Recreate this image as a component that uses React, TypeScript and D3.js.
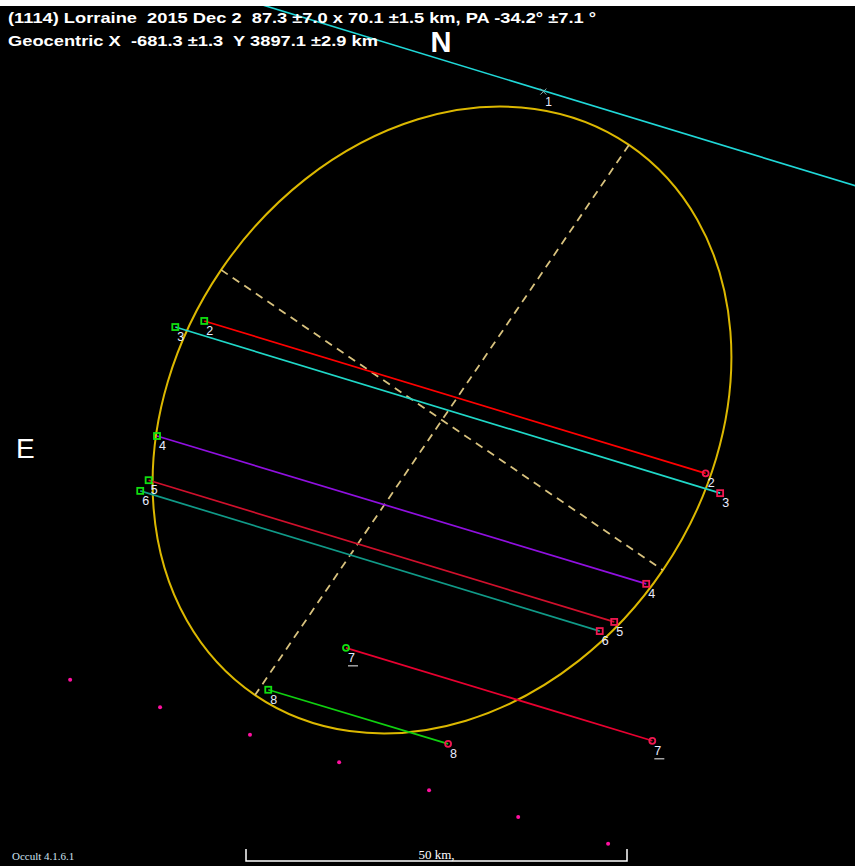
import React, { useEffect, useRef } from 'react';
import * as d3 from 'd3';

// occultation solution
const asteroidTitle = '(1114) Lorraine  2015 Dec 2  87.3 ±7.0 x 70.1 ±1.5 km, PA -34.2° ±7.1 °';
const geocentricText = 'Geocentric X  -681.3 ±1.3  Y 3897.1 ±2.9 km';
const majorAxisKm = 87.3;
const minorAxisKm = 70.1;
const paDeg = -34.2;

// chords (km, x to the west/right, y to the north/up)
const chordIds = ['2', '3', '4', '5', '6', '7', '8'];
const chordStartX = [-31.2, -35.0, -37.4, -38.5, -39.6, -12.6, -22.8];
const chordStartY = [13.0, 12.2, -2.1, -7.9, -9.3, -29.9, -35.4];
const chordEndX = [34.6, 36.5, 26.8, 22.6, 20.7, 27.6, 0.8];
const chordEndY = [-7.0, -9.6, -21.5, -26.5, -27.7, -42.1, -42.5];
const chordStartMark = ['square', 'square', 'square', 'square', 'square', 'circle', 'square'];
const chordEndMark = ['circle', 'square', 'square', 'square', 'square', 'circle', 'circle'];
const chordColors = ['#ff0000', '#20d8c8', '#9010e0', '#d0102c', '#109a88', '#e80030', '#10d010'];

// miss chord (observer 1)
const missLineX = [-24.0, 56.0];
const missLineY = [54.6, 30.2];
const missMarkX = 13.3;
const missMarkY = 43.1;

// predicted track dots
const dotX = [-48.8, -37.0, -25.2, -13.5, -1.7, 10.0, 21.8];
const dotY = [-34.1, -37.7, -41.3, -44.9, -48.6, -52.1, -55.6];

const scaleBarKm = 50;

function App() {
  const ref = useRef<SVGSVGElement>(null);

  useEffect(() => {
    const svg = d3.select(ref.current);
    svg.selectAll('*').remove();

    const width = 855, height = 866;
    const cx = 442, cy = 420, pxPerKm = 7.62;

    const x = d3.scaleLinear().domain([0, 1]).range([cx, cx + pxPerKm]);
    const y = d3.scaleLinear().domain([0, 1]).range([cy, cy - pxPerKm]);

    svg.append('rect').attr('x', 0).attr('y', 0).attr('width', width).attr('height', height).attr('fill', '#fff');
    svg.append('rect').attr('x', 0).attr('y', 6).attr('width', width).attr('height', height - 6).attr('fill', '#000');

    svg.append('clipPath').attr('id', 'plotclip')
      .append('rect').attr('x', 0).attr('y', 6).attr('width', width).attr('height', height - 6);

    const g = svg.append('g').attr('clip-path', 'url(#plotclip)');

    // miss line
    g.append('line')
      .attr('x1', x(missLineX[0])).attr('y1', y(missLineY[0]))
      .attr('x2', x(missLineX[1])).attr('y2', y(missLineY[1]))
      .attr('stroke', '#20d8d8').attr('stroke-width', 1.6);
    const mx = x(missMarkX), my = y(missMarkY);
    g.append('path')
      .attr('d', `M${mx - 3},${my - 3}L${mx + 3},${my + 3}M${mx - 3},${my + 3}L${mx + 3},${my - 3}`)
      .attr('stroke', '#8aa').attr('stroke-width', 1);
    g.append('text').attr('x', mx + 2).attr('y', my + 14).text('1')
      .attr('fill', '#e8ecff').attr('font-family', 'Liberation Sans, Arial').attr('font-size', 12);

    // ellipse + axes
    const rx = (minorAxisKm / 2) * pxPerKm;
    const ry = (majorAxisKm / 2) * pxPerKm;
    const rot = -paDeg;
    const eg = g.append('g').attr('transform', `translate(${x(0)},${y(0)}) rotate(${rot})`);
    eg.append('ellipse').attr('rx', rx).attr('ry', ry)
      .attr('fill', 'none').attr('stroke', '#dcb800').attr('stroke-width', 2);
    eg.append('line').attr('x1', 0).attr('y1', -ry).attr('x2', 0).attr('y2', ry)
      .attr('stroke', '#d8c27e').attr('stroke-width', 1.8).attr('stroke-dasharray', '8,6');
    eg.append('line').attr('x1', -rx).attr('y1', 0).attr('x2', rx).attr('y2', 0)
      .attr('stroke', '#d8c27e').attr('stroke-width', 1.8).attr('stroke-dasharray', '8,6');

    // chords
    chordIds.forEach((id, i) => {
      const x1 = x(chordStartX[i]), y1 = y(chordStartY[i]);
      const x2 = x(chordEndX[i]), y2 = y(chordEndY[i]);
      g.append('line').attr('x1', x1).attr('y1', y1).attr('x2', x2).attr('y2', y2)
        .attr('stroke', chordColors[i]).attr('stroke-width', 1.7);

      const mark = (px: number, py: number, type: string, color: string) => {
        if (type === 'circle') {
          g.append('circle').attr('cx', px).attr('cy', py).attr('r', 3)
            .attr('fill', 'none').attr('stroke', color).attr('stroke-width', 1.8);
        } else {
          g.append('rect').attr('x', px - 3).attr('y', py - 3).attr('width', 6).attr('height', 6)
            .attr('fill', 'none').attr('stroke', color).attr('stroke-width', 1.8);
        }
      };
      mark(x1, y1, chordStartMark[i], '#10e010');
      mark(x2, y2, chordEndMark[i], '#f01850');

      [[x1, y1], [x2, y2]].forEach(([px, py]) => {
        g.append('text').attr('x', px + 2).attr('y', py + 14).text(id)
          .attr('fill', '#e8ecff').attr('font-family', 'Liberation Sans, Arial').attr('font-size', 12.5);
        if (id === '7') {
          g.append('line').attr('x1', px + 2).attr('x2', px + 12)
            .attr('y1', py + 18).attr('y2', py + 18)
            .attr('stroke', '#ccc').attr('stroke-width', 1.2);
        }
      });
    });

    // track dots
    g.selectAll('circle.dot').data(dotX).join('circle').attr('class', 'dot')
      .attr('cx', (d) => x(d)).attr('cy', (d, i) => y(dotY[i]))
      .attr('r', 2).attr('fill', '#ff10a0');

    // text
    svg.append('text').attr('x', 8).attr('y', 23).text(asteroidTitle)
      .style('white-space', 'pre')
      .attr('fill', '#fff').attr('font-family', 'Liberation Sans, Arial').attr('font-weight', 'bold')
      .attr('font-size', 15).attr('textLength', 588).attr('lengthAdjust', 'spacingAndGlyphs');
    svg.append('text').attr('x', 8).attr('y', 46).text(geocentricText)
      .style('white-space', 'pre')
      .attr('fill', '#fff').attr('font-family', 'Liberation Sans, Arial').attr('font-weight', 'bold')
      .attr('font-size', 15).attr('textLength', 370).attr('lengthAdjust', 'spacingAndGlyphs');

    svg.append('text').attr('x', 441).attr('y', 52).text('N').attr('text-anchor', 'middle')
      .attr('fill', '#fff').attr('font-family', 'Liberation Sans, Arial').attr('font-weight', 'bold').attr('font-size', 29);
    svg.append('text').attr('x', 16).attr('y', 458).text('E')
      .attr('fill', '#fff').attr('font-family', 'Liberation Sans, Arial').attr('font-size', 28);

    svg.append('text').attr('x', 12).attr('y', 860).text('Occult 4.1.6.1')
      .attr('fill', '#cfe0f0').attr('font-family', 'Liberation Serif, Times New Roman').attr('font-size', 11);

    // scale bar
    const sb0 = 246, sb1 = sb0 + (x(scaleBarKm) - x(0)), sby = 861;
    svg.append('path')
      .attr('d', `M${sb0},${sby - 12}V${sby}H${sb1}V${sby - 12}`)
      .attr('fill', 'none').attr('stroke', '#fff').attr('stroke-width', 1.5);
    svg.append('text').attr('x', (sb0 + sb1) / 2).attr('y', sby - 2).text('50 km,').attr('text-anchor', 'middle')
      .attr('fill', '#fff').attr('font-family', 'Liberation Serif, Times New Roman').attr('font-size', 13);
  }, []);

  return (
    <svg ref={ref} width={855} height={866}
      style={{ position: 'absolute', left: 0, top: 0, display: 'block' }} />
  );
}

export default App;
